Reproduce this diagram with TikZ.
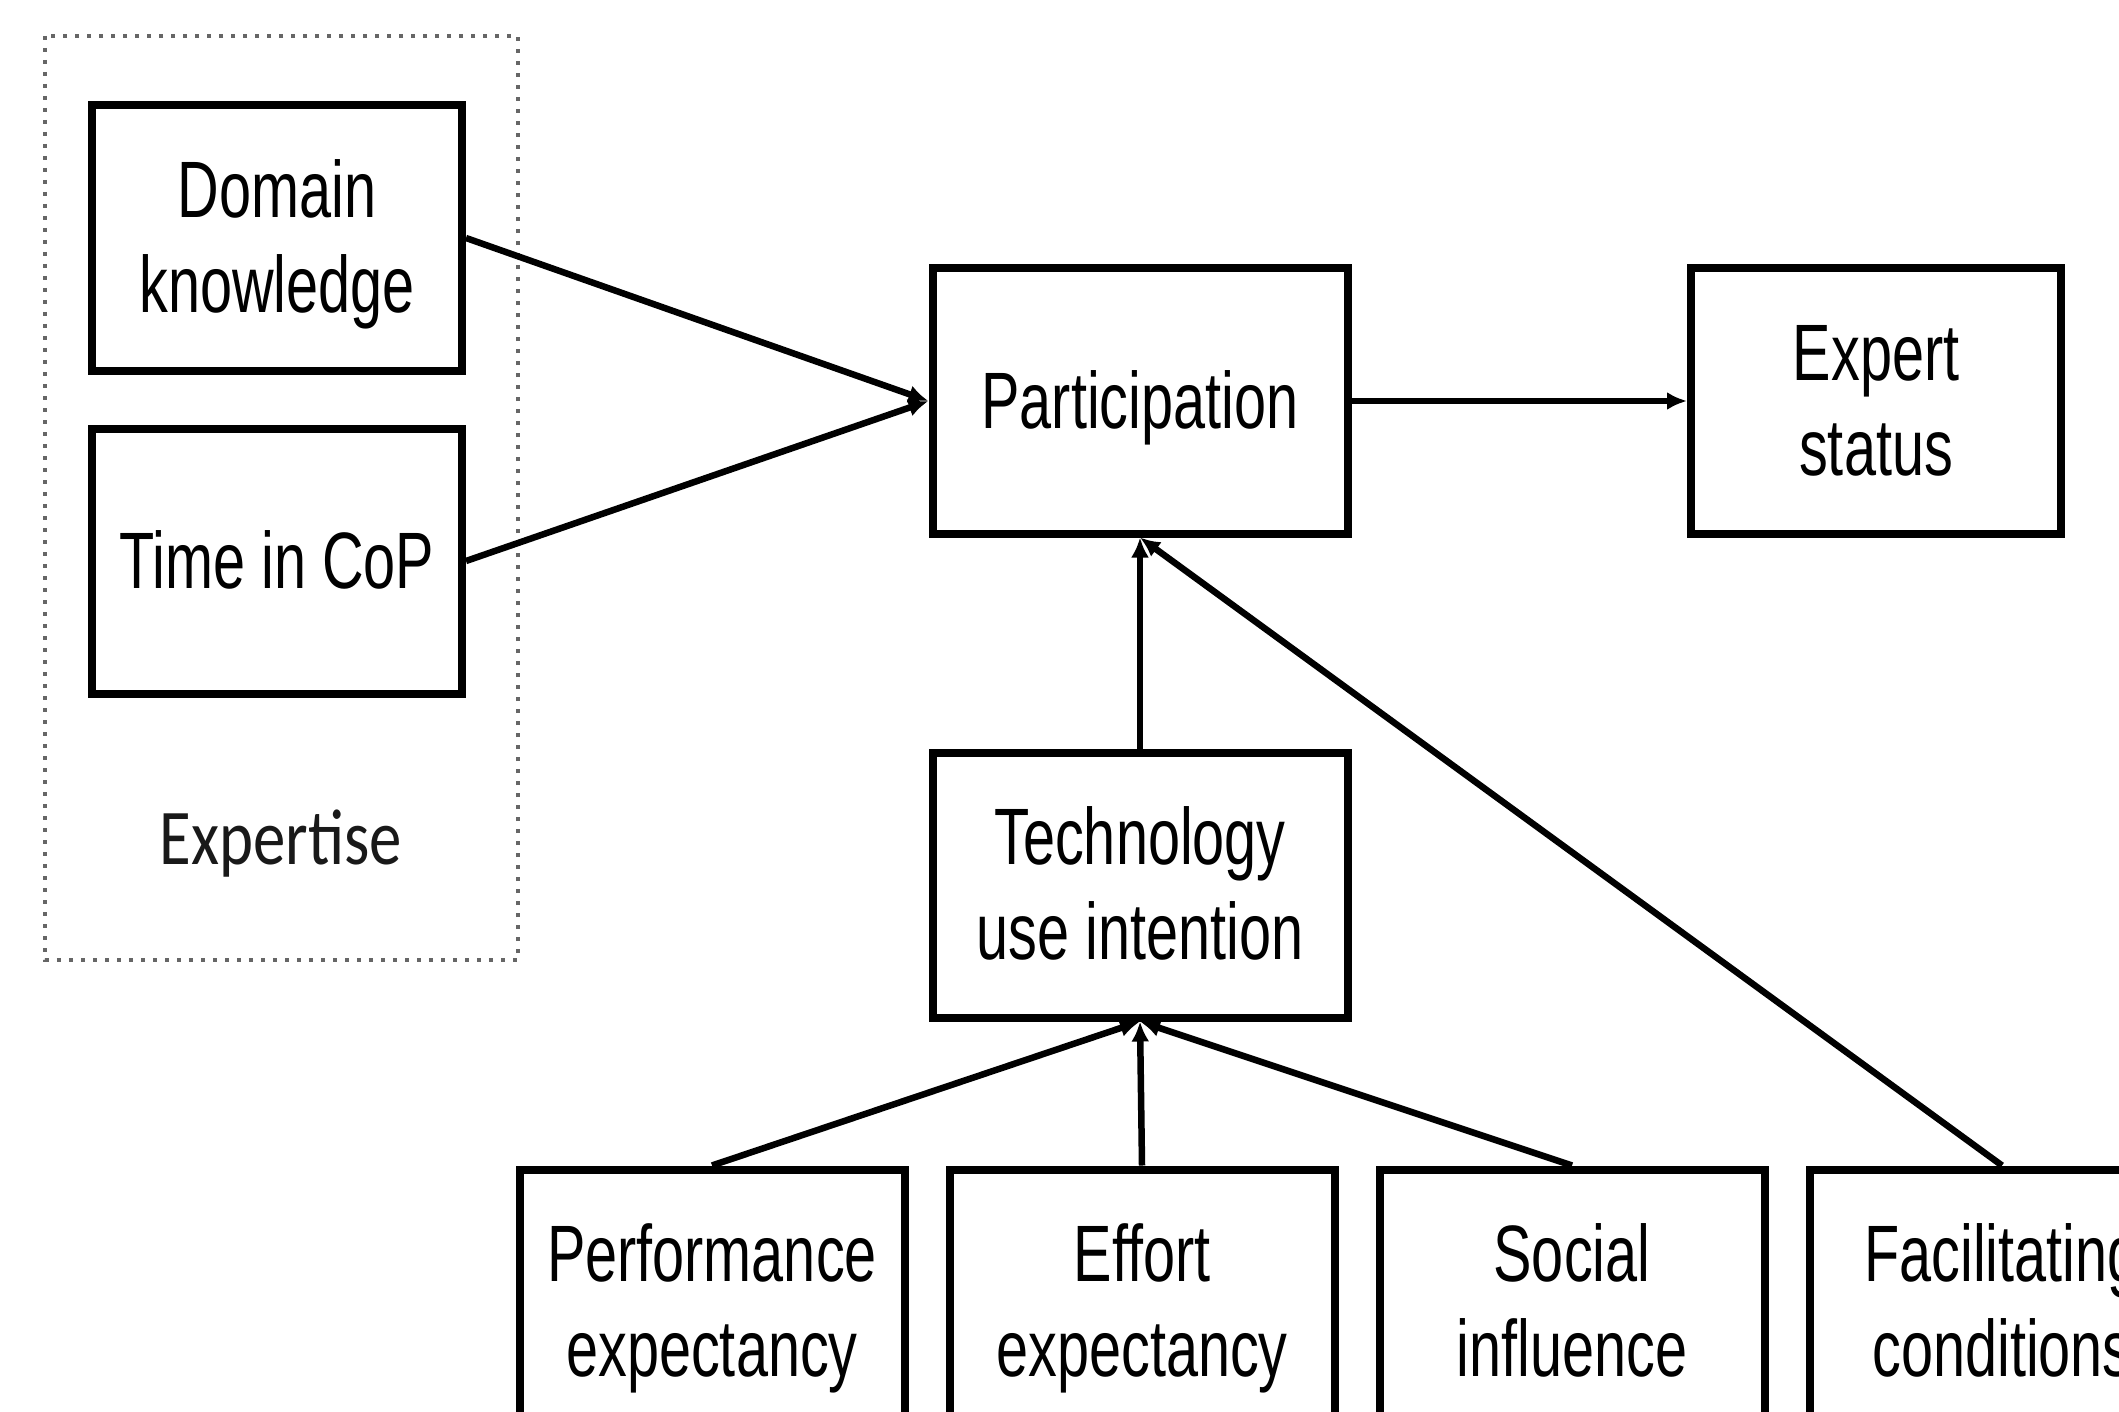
\documentclass[tikz,border=0pt]{standalone}
\usepackage{fontspec}
\usetikzlibrary{arrows.meta}
\newfontfamily\boxfont[FakeStretch=0.72]{Liberation Sans}
\newfontfamily\labfont[FakeStretch=0.82]{Carlito}
\newcommand\bxt[1]{\raisebox{-8pt}[\height][\depth]{\begin{tabular}{@{}c@{}}#1\end{tabular}}}
\tikzset{
  box/.style={draw=black, line width=8pt, fill=white, minimum width=370pt, minimum height=265pt,
    inner sep=0pt, font=\boxfont\fontsize{80}{95}\selectfont},
  conn/.style={line width=6.5pt, -{Latex[length=20pt,width=18pt]}},
  groupframe/.style={draw=black!60, line width=4pt, dash pattern=on 4pt off 8pt}
}
\begin{document}
\begin{tikzpicture}[x=1pt,y=-1pt]
\useasboundingbox (0,0) rectangle (2119,1412);
\clip (0,0) rectangle (2119,1412);
\fill[white] (0,0) rectangle (2119,1412);
% group frame
\draw[groupframe] (45,36) rectangle (518,960);
\node[font=\labfont\fontsize{79}{90}\selectfont, text=black!90] (expl) at (281,844) {Expertise};
% boxes
\node[box] (dk) at (277,238) {\bxt{Domain\\knowledge}};
\node[box] (tc) at (277,561) {\bxt{Time in CoP}};
\node[box, minimum width=415pt] (part) at (1140,401) {\bxt{Participation}};
\node[box] (es) at (1876,401) {\bxt{Expert\\status}};
\node[box, minimum width=415pt] (tech) at (1140,885) {\bxt{Technology\\use intention}};
\node[box, minimum width=385pt] (pe) at (712,1302) {\bxt{Performance\\expectancy}};
\node[box, minimum width=385pt] (ee) at (1142,1302) {\bxt{Effort\\expectancy}};
\node[box, minimum width=385pt] (si) at (1572,1302) {\bxt{Social\\influence}};
\node[box, minimum width=385pt] (fc) at (2002,1302) {\bxt{Facilitating\\conditions}};
% connectors
\draw[conn] (dk.east) -- (part.west);
\draw[conn] (tc.east) -- (part.west);
\draw[conn] (part.east) -- (es.west);
\draw[conn] (tech.north) -- (part.south);
\draw[conn] (fc.north) -- (part.south);
\draw[conn] (pe.north) -- (tech.south);
\draw[conn] (ee.north) -- (tech.south);
\draw[conn] (si.north) -- (tech.south);
\end{tikzpicture}
\end{document}
